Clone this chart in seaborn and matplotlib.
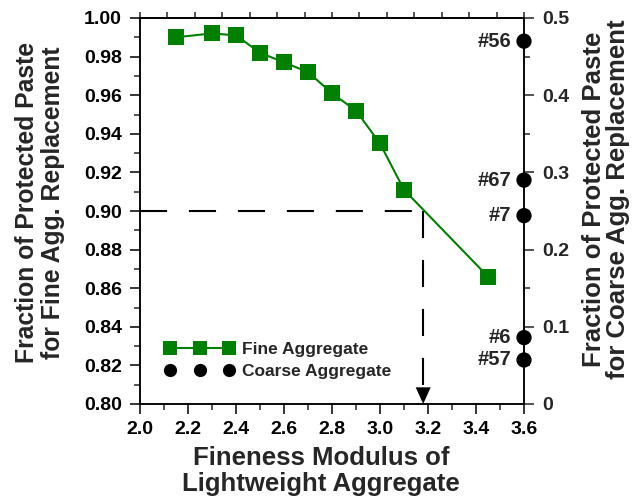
import numpy as np
import pandas as pd
import matplotlib
matplotlib.use("Agg")
import matplotlib.pyplot as plt
from matplotlib.lines import Line2D
from matplotlib.ticker import FixedLocator, MultipleLocator, FormatStrFormatter
import seaborn as sns

# Fine lightweight aggregate: fineness modulus vs. protected paste fraction
fineness_modulus = [2.15, 2.30, 2.40, 2.50, 2.60, 2.70, 2.80, 2.90, 3.00, 3.10, 3.45]
fine_fraction = [0.990, 0.992, 0.991, 0.982, 0.977, 0.972, 0.961, 0.952, 0.935, 0.911, 0.866]

# Coarse lightweight aggregate gradations (right axis)
coarse_grades = ["#56", "#67", "#7", "#6", "#57"]
coarse_fraction = [0.470, 0.290, 0.244, 0.086, 0.057]

# Reading for a 0.90 protected paste target
target_fraction = 0.90
target_fm = 3.18

x_ticks = [2.0, 2.2, 2.4, 2.6, 2.8, 3.0, 3.2, 3.4, 3.6]
left_ticks = [0.80, 0.82, 0.84, 0.86, 0.88, 0.90, 0.92, 0.94, 0.96, 0.98, 1.00]
right_ticks = [0.0, 0.1, 0.2, 0.3, 0.4, 0.5]
right_tick_labels = ["0", "0.1", "0.2", "0.3", "0.4", "0.5"]

sns.set_style("ticks")
plt.rcParams["font.family"] = ["Liberation Sans", "DejaVu Sans"]
plt.rcParams["font.weight"] = "bold"
plt.rcParams["axes.labelweight"] = "bold"

GREEN = "#008000"
SPINE_W = 1.1

fig = plt.figure(figsize=(6.34, 5.0), dpi=100)
ax = fig.add_axes([0.2208, 0.192, 0.6057, 0.772])

fine_df = pd.DataFrame({"fm": fineness_modulus, "frac": fine_fraction})
sns.lineplot(data=fine_df, x="fm", y="frac", ax=ax, color=GREEN, marker="s",
             markersize=11.5, markeredgewidth=0, linewidth=1.5, zorder=4)

ax.set_xlim(2.0, 3.6)
ax.set_ylim(0.80, 1.00)
ax.xaxis.set_major_locator(FixedLocator(x_ticks))
ax.xaxis.set_major_formatter(FormatStrFormatter("%.1f"))
ax.xaxis.set_minor_locator(MultipleLocator(0.1))
ax.yaxis.set_major_locator(FixedLocator(left_ticks))
ax.yaxis.set_major_formatter(FormatStrFormatter("%.2f"))
ax.yaxis.set_minor_locator(MultipleLocator(0.01))

ax.tick_params(which="major", direction="out", length=7, width=SPINE_W,
               labelsize=14, colors="black")
ax.tick_params(axis="y", which="major", pad=6)
ax.tick_params(axis="x", which="major", pad=5)
ax.tick_params(which="minor", direction="out", length=4, width=SPINE_W)
for sp in ax.spines.values():
    sp.set_linewidth(SPINE_W)
    sp.set_color("black")

ax.set_xlabel("Fineness Modulus of\nLightweight Aggregate", fontsize=18.5,
              fontweight="bold", va="center", linespacing=1.1)
ax.xaxis.set_label_coords(0.471, -0.174)
ax.set_ylabel("Fraction of Protected Paste\nfor Fine Agg. Replacement", fontsize=17.8,
              fontweight="bold", va="center", linespacing=1.08)
ax.yaxis.set_label_coords(-0.26, 0.521)

# Top axis tick marks
top = ax.secondary_xaxis("top")
top.set_xticks(np.linspace(2.0, 3.6, 15))
top.tick_params(direction="out", length=4, width=SPINE_W, labeltop=False)
top.spines["top"].set_linewidth(SPINE_W)

# Dashed reading line with arrow to the x axis
ax.plot([2.0, target_fm], [target_fraction, target_fraction], color="black",
        lw=1.5, dashes=(13, 10.5), zorder=3)
ax.plot([target_fm, target_fm], [target_fraction, 0.809], color="black",
        lw=1.5, dashes=(13, 10.5), zorder=3)
ax.annotate("", xy=(target_fm, 0.80), xytext=(0, 22), textcoords="offset points",
            arrowprops=dict(arrowstyle="-|>,head_length=0.4,head_width=0.18",
                            mutation_scale=30, color="black", lw=0,
                            shrinkA=0, shrinkB=0), zorder=5)

# Right axis: coarse aggregate gradations on the spine
ax2 = ax.twinx()
coarse_df = pd.DataFrame({"fm": [3.6] * len(coarse_fraction),
                          "frac": coarse_fraction, "grade": coarse_grades})
sns.scatterplot(data=coarse_df, x="fm", y="frac", ax=ax2, color="black", s=11 ** 2,
                edgecolor="none", clip_on=False, zorder=6, legend=False)
ax2.set_ylim(0, 0.5)
ax2.yaxis.set_major_locator(FixedLocator(right_ticks))
ax2.set_yticklabels(right_tick_labels)
ax2.yaxis.set_minor_locator(MultipleLocator(0.05))
ax2.tick_params(axis="y", which="major", direction="out", length=7, width=SPINE_W,
                labelsize=14, pad=6)
ax2.tick_params(axis="y", which="minor", direction="out", length=4, width=SPINE_W)
for sp in ax2.spines.values():
    sp.set_linewidth(SPINE_W)
    sp.set_color("black")
ax2.set_xlabel("")
ax2.set_ylabel("Fraction of Protected Paste\nfor Coarse Agg. Replacement", fontsize=18.5,
               fontweight="bold", rotation=90, va="center", linespacing=1.0)
ax2.yaxis.set_label_coords(1.214, 0.53)

for grade, frac in zip(coarse_grades, coarse_fraction):
    ax2.annotate(grade, xy=(3.6, frac), xytext=(-9, 0), textcoords="offset points",
                 ha="right", va="center", fontsize=14.5, fontweight="bold",
                 annotation_clip=False)

# Legend
fine_handle = Line2D([], [], color=GREEN, marker="s", markersize=10,
                     markeredgewidth=0, lw=1.5)
coarse_handle = Line2D([], [], color="black", marker="o", markersize=9.5,
                       markeredgewidth=0, ls="none")
ax2.legend([fine_handle, coarse_handle], ["Fine Aggregate", "Coarse Aggregate"],
           numpoints=3, frameon=False, loc="upper left", bbox_to_anchor=(0.065, 0.16),
           fontsize=12.5, handlelength=4.0, handletextpad=0.46, labelspacing=0.35,
           borderaxespad=0, borderpad=0)

fig.savefig("out.png", dpi=100)
